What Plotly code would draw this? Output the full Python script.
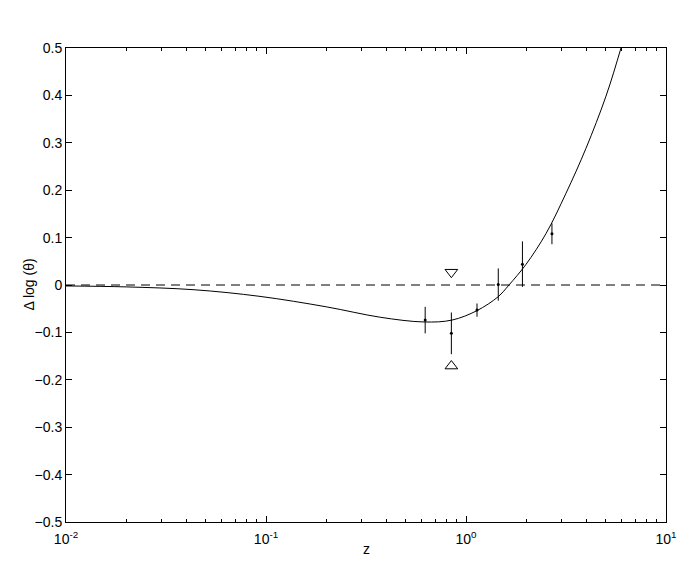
import plotly.graph_objects as go

# model curve (z, delta log theta)
curve_z = [0.01, 0.02, 0.0437, 0.0933, 0.2, 0.372, 0.617, 0.851, 1.135,
           1.445, 1.64, 1.995, 2.512, 3.162, 3.981, 5.012, 5.957, 7.08]
curve_y = [-0.002, -0.004, -0.010, -0.024, -0.046, -0.068, -0.078, -0.074, -0.054,
           -0.025, 0.0, 0.0435, 0.1085, 0.1935, 0.2885, 0.3985, 0.500, 0.61]

# measurements with error bars
data_z = [0.625, 0.845, 1.135, 1.45, 1.915, 2.69]
data_y = [-0.074, -0.102, -0.053, 0.001, 0.044, 0.108]
data_err = [0.028, 0.044, 0.014, 0.034, 0.048, 0.022]

# limits
upper_z = [0.845]
upper_y = [0.027]
lower_z = [0.845]
lower_y = [-0.171]

xticks = [0.01, 0.1, 1, 10]
xtick_text = ['10<sup>-2</sup>', '10<sup>-1</sup>', '10<sup>0</sup>', '10<sup>1</sup>']
yticks = [-0.5, -0.4, -0.3, -0.2, -0.1, 0, 0.1, 0.2, 0.3, 0.4, 0.5]
ytick_text = ['\u22120.5', '\u22120.4', '\u22120.3', '\u22120.2', '\u22120.1', '0',
              '0.1', '0.2', '0.3', '0.4', '0.5']
minor_x = [m * 10.0 ** e for e in (-2, -1, 0) for m in range(2, 10)]

fig = go.Figure()

fig.add_trace(go.Scatter(x=[0.01, 10], y=[0, 0], mode='lines',
                         line=dict(color='black', width=1, dash='9px,6px'),
                         hoverinfo='skip'))
fig.add_trace(go.Scatter(x=curve_z, y=curve_y, mode='lines',
                         line=dict(color='black', width=1, shape='spline')))
fig.add_trace(go.Scatter(x=data_z, y=data_y, mode='markers',
                         marker=dict(color='black', size=3),
                         error_y=dict(type='data', array=data_err, color='black',
                                      thickness=1, width=0)))
fig.add_trace(go.Scatter(x=upper_z, y=upper_y, mode='markers',
                         marker=dict(symbol='triangle-down-open', size=11, color='black',
                                     line=dict(width=1))))
fig.add_trace(go.Scatter(x=lower_z, y=lower_y, mode='markers',
                         marker=dict(symbol='triangle-up-open', size=11, color='black',
                                     line=dict(width=1))))

axis_font = dict(family='Liberation Sans, Arial, sans-serif', size=14, color='black')

fig.update_layout(
    width=681, height=565,
    margin=dict(l=65.5, r=15, t=47.5, b=43),
    paper_bgcolor='white', plot_bgcolor='white',
    showlegend=False,
    font=axis_font,
    xaxis=dict(type='log', range=[-2, 1], tickvals=xticks, ticktext=xtick_text,
               ticks='inside', ticklen=6, tickcolor='black', mirror='ticks',
               showline=True, linecolor='black', linewidth=1, showgrid=False,
               zeroline=False, tickfont=axis_font, automargin=False,
               ticklabelstandoff=4,
               minor=dict(tickvals=minor_x, ticks='inside', ticklen=3,
                          tickcolor='black', showgrid=False)),
    yaxis=dict(range=[-0.5, 0.5], tickvals=yticks, ticktext=ytick_text,
               ticks='inside', ticklen=6, tickcolor='black', mirror='ticks',
               showline=True, linecolor='black', linewidth=1, showgrid=False,
               zeroline=False, tickfont=axis_font, automargin=False),
    annotations=[dict(text='\u0394 log (\u03b8)', xref='paper', yref='paper',
                      x=-0.0624, y=0.5, xanchor='center', yanchor='middle',
                      textangle=-90, showarrow=False, font=axis_font),
                 dict(text='z', xref='paper', yref='paper',
                      x=0.5, y=-0.0568, xanchor='center', yanchor='middle',
                      showarrow=False, font=axis_font)],
)

# drop the default page margin so the figure sits at the window corner
fig.write_html('out.html', config={'displayModeBar': False},
               post_script="document.body.style.margin='0';")
